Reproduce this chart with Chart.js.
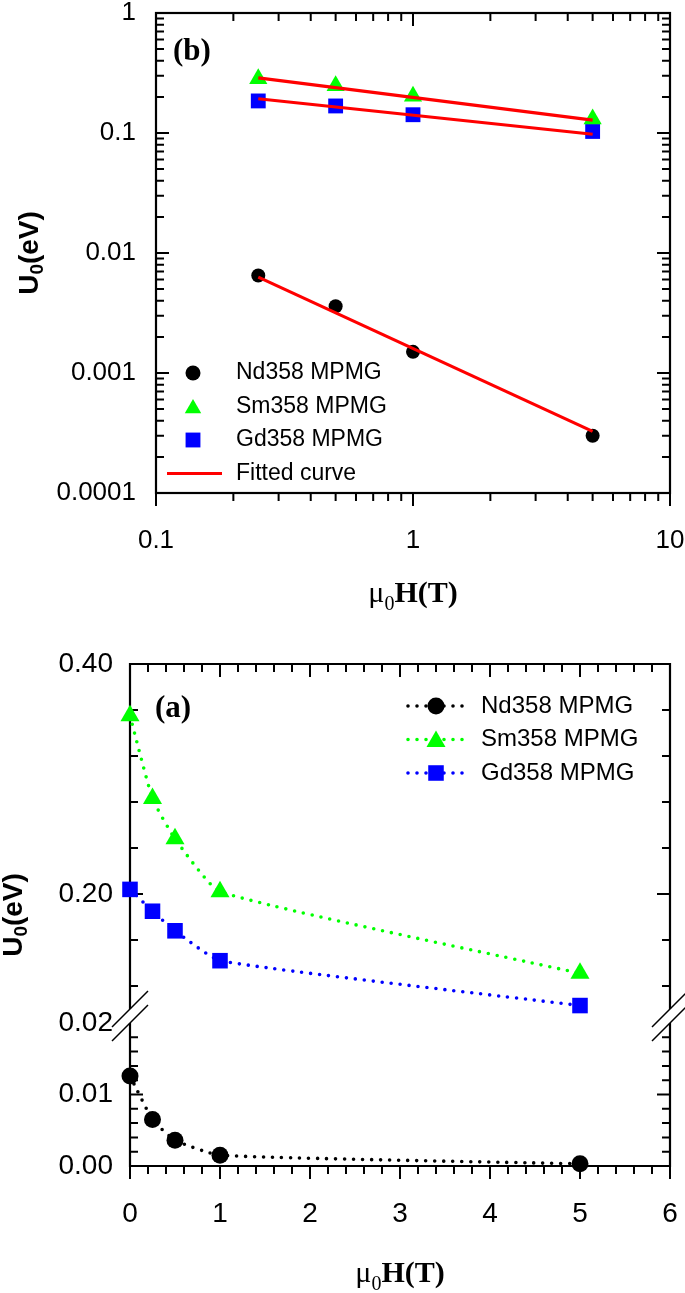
<!DOCTYPE html>
<html><head><meta charset="utf-8">
<script src="https://cdn.jsdelivr.net/npm/chart.js@4.4.1/dist/chart.umd.min.js"></script>
<style>
html,body{margin:0;padding:0;background:#fff;}
#wrap{position:relative;width:685px;height:1293px;overflow:hidden;background:#fff;}
canvas{position:absolute;left:0;}
#cb{top:0;}
#ca{top:620px;}
</style></head><body>
<div id="wrap">
<canvas id="cb" width="685" height="620"></canvas>
<canvas id="ca" width="685" height="673"></canvas>
</div>
<script>
// ---------------- data ----------------
const fieldsT = [0, 0.25, 0.5, 1, 5];
const ndU = [0.0126, 0.0065, 0.0036, 0.0015, 0.0003];
const smU = [0.355, 0.283, 0.248, 0.202, 0.131];
const gdU = [0.204, 0.185, 0.168, 0.142, 0.103];
const fitFields = [0.25, 5];
const ndFit = [0.0063, 0.000326];
const smFit = [0.288, 0.128];
const gdFit = [0.193, 0.0976];
const seriesLabels = ['Nd358 MPMG', 'Sm358 MPMG', 'Gd358 MPMG'];
const fitLabel = 'Fitted curve';
const logXTicks = [0.1, 1, 10];
const logYTicks = [0.0001, 0.001, 0.01, 0.1, 1];
const linXTicks = [0, 1, 2, 3, 4, 5, 6];
const upperYTicks = [0.20, 0.40];
const lowerYTicks = [0.00, 0.01, 0.02];

// ---------------- helpers ----------------
const SANS = '"Liberation Sans", Arial, Helvetica, sans-serif';
const SERIF = '"Liberation Serif", "Times New Roman", Times, serif';
const GREEN = '#00ff00', BLUE = '#0000ff', BLACK = '#000000', RED = '#ff0000';
const xy = (xs, ys) => xs.map((x, i) => ({x: x, y: ys[i]}));

function marker(ctx, style, x, y, r, color) {
  ctx.save();
  ctx.fillStyle = color;
  ctx.beginPath();
  if (style === 'circle') {
    ctx.arc(x, y, r, 0, Math.PI * 2);
  } else if (style === 'triangle') {
    ctx.moveTo(x, y - r);
    ctx.lineTo(x + r * Math.sin(2 * Math.PI / 3), y - r * Math.cos(2 * Math.PI / 3));
    ctx.lineTo(x + r * Math.sin(4 * Math.PI / 3), y - r * Math.cos(4 * Math.PI / 3));
  } else {
    const s = r * Math.SQRT1_2;
    ctx.rect(x - s, y - s, 2 * s, 2 * s);
  }
  ctx.closePath();
  ctx.fill();
  ctx.restore();
}

function yTitle(ctx, cx, cy) {
  ctx.save();
  ctx.translate(cx, cy);
  ctx.rotate(-Math.PI / 2);
  ctx.fillStyle = '#000';
  ctx.textBaseline = 'alphabetic';
  ctx.textAlign = 'left';
  const big = 'bold 28px ' + SANS, small = 'bold 19px ' + SANS;
  ctx.font = big; const w1 = ctx.measureText('U').width, w3 = ctx.measureText('(eV)').width;
  ctx.font = small; const w2 = ctx.measureText('0').width;
  let x = -(w1 + w2 + w3) / 2; const base = 10;
  ctx.font = big; ctx.fillText('U', x, base); x += w1;
  ctx.font = small; ctx.fillText('0', x, base + 5); x += w2;
  ctx.font = big; ctx.fillText('(eV)', x, base);
  ctx.restore();
}

function xTitle(ctx, cx, base) {
  ctx.save();
  ctx.fillStyle = '#000';
  ctx.textBaseline = 'alphabetic';
  ctx.textAlign = 'left';
  const f1 = '30px ' + SERIF, f2 = '20px ' + SERIF, f3 = 'bold 30px ' + SERIF;
  ctx.font = f1; const w1 = ctx.measureText('\u03bc').width;
  ctx.font = f2; const w2 = ctx.measureText('0').width;
  ctx.font = f3; const w3 = ctx.measureText('H(T)').width;
  let x = cx - (w1 + w2 + w3) / 2;
  ctx.font = f1; ctx.fillText('\u03bc', x, base); x += w1;
  ctx.font = f2; ctx.fillText('0', x, base + 8); x += w2;
  ctx.font = f3; ctx.fillText('H(T)', x, base);
  ctx.restore();
}

function panelLabel(ctx, text, x, base) {
  ctx.save();
  ctx.fillStyle = '#000';
  ctx.font = 'bold 31px ' + SERIF;
  ctx.textBaseline = 'alphabetic';
  ctx.textAlign = 'left';
  ctx.fillText(text, x, base);
  ctx.restore();
}

function tickLine(ctx, x1, y1, x2, y2) { ctx.moveTo(x1, y1); ctx.lineTo(x2, y2); }

const MAJ = 13, MIN = 8;

function fixY(w) {
  return s => { s.width = w; s.paddingTop = 0; s.paddingBottom = 0; };
}
function fixX(h) {
  return s => { s.height = h; s.paddingLeft = 0; s.paddingRight = 0; };
}

// ---------------- chart (b): log-log ----------------
const dotStyle = {showLine: false, pointBorderWidth: 0, order: 1, clip: false};
new Chart(document.getElementById('cb'), {
  type: 'line',
  data: {
    datasets: [
      Object.assign({label: seriesLabels[0], data: xy(fieldsT.slice(1), ndU.slice(1)),
        pointStyle: 'circle', pointRadius: 7, backgroundColor: BLACK, borderColor: BLACK}, dotStyle),
      Object.assign({label: seriesLabels[1], data: xy(fieldsT.slice(1), smU.slice(1)),
        pointStyle: 'triangle', pointRadius: 10.5, backgroundColor: GREEN, borderColor: GREEN}, dotStyle),
      Object.assign({label: seriesLabels[2], data: xy(fieldsT.slice(1), gdU.slice(1)),
        pointStyle: 'rect', pointRadius: 10.5, backgroundColor: BLUE, borderColor: BLUE}, dotStyle),
      {label: fitLabel, data: xy(fitFields, ndFit), borderColor: RED, borderWidth: 3.2, pointRadius: 0, order: 0, clip: false},
      {label: fitLabel, data: xy(fitFields, smFit), borderColor: RED, borderWidth: 3.2, pointRadius: 0, order: 0, clip: false},
      {label: fitLabel, data: xy(fitFields, gdFit), borderColor: RED, borderWidth: 3.2, pointRadius: 0, order: 0, clip: false}
    ]
  },
  options: {
    responsive: false, animation: false, devicePixelRatio: 1,
    layout: {padding: {top: 13, right: 15, left: 0, bottom: 0}},
    plugins: {legend: {display: false}, tooltip: {enabled: false}},
    scales: {
      x: {
        type: 'logarithmic', min: 0.1, max: 10,
        afterBuildTicks: s => { s.ticks = logXTicks.map(v => ({value: v})); },
        afterFit: fixX(127),
        grid: {display: false, drawTicks: false}, border: {display: false},
        ticks: {callback: v => String(v), color: '#000', font: {family: SANS, size: 26}, padding: 32, maxRotation: 0, autoSkip: false}
      },
      y: {
        type: 'logarithmic', min: 0.0001, max: 1,
        afterBuildTicks: s => { s.ticks = logYTicks.map(v => ({value: v})); },
        afterFit: fixY(156),
        grid: {display: false, drawTicks: false}, border: {display: false},
        ticks: {callback: v => String(v), color: '#000', font: {family: SANS, size: 26}, padding: 20, autoSkip: false}
      }
    }
  },
  plugins: [{
    id: 'frameB',
    beforeDatasetsDraw(chart) {
      const {ctx, chartArea: a, scales: {x, y}} = chart;
      ctx.save();
      ctx.strokeStyle = '#000';
      ctx.lineWidth = 2.2;
      ctx.strokeRect(a.left, a.top, a.right - a.left, a.bottom - a.top);
      ctx.lineWidth = 2;
      ctx.beginPath();
      for (let d = 0.1; d < 10.5; d *= 10) {
        for (let m = 1; m <= 9; m++) {
          const v = d * m;
          if (v > 10.0001) break;
          const len = m === 1 ? MAJ : MIN;
          const px = x.getPixelForValue(v);
          tickLine(ctx, px, a.top, px, a.top + len);
          tickLine(ctx, px, a.bottom, px, a.bottom + len);
        }
      }
      for (let d = 0.0001; d < 1.5; d *= 10) {
        for (let m = 1; m <= 9; m++) {
          const v = d * m;
          if (v > 1.0001) break;
          const len = m === 1 ? MAJ : MIN;
          const py = y.getPixelForValue(v);
          tickLine(ctx, a.left, py, a.left + len, py);
          tickLine(ctx, a.right, py, a.right - len, py);
        }
      }
      ctx.stroke();
      ctx.restore();
    },
    afterDraw(chart) {
      const {ctx, chartArea: a} = chart;
      const ds = chart.data.datasets;
      const mx = a.left + 37, tx = a.left + 80, row0 = a.top + 360, dy = 33.5;
      ctx.save();
      ctx.font = '23px ' + SANS;
      ctx.fillStyle = '#000';
      ctx.textBaseline = 'middle';
      const items = [ds[0], ds[1], ds[2], ds[3]];
      items.forEach((d, i) => {
        const yy = row0 + i * dy;
        if (d.pointRadius > 0) {
          const r = d.pointStyle === 'circle' ? 7.5 : d.pointStyle === 'triangle' ? 9.5 : 10.5;
          marker(ctx, d.pointStyle, mx, d.pointStyle === 'triangle' ? yy + 2 : yy, r, d.backgroundColor);
        } else {
          ctx.save();
          ctx.strokeStyle = d.borderColor; ctx.lineWidth = d.borderWidth;
          ctx.beginPath(); ctx.moveTo(a.left + 11, yy); ctx.lineTo(a.left + 66, yy); ctx.stroke();
          ctx.restore();
        }
        ctx.fillStyle = '#000';
        ctx.fillText(d.label, tx, yy);
      });
      ctx.restore();
      panelLabel(ctx, '(b)', a.left + 17, a.top + 47);
      yTitle(ctx, 28, (a.top + a.bottom) / 2);
      xTitle(ctx, (a.left + a.right) / 2, 602);
    }
  }]
});

// ---------------- chart (a): linear with axis break ----------------
const dotted = {borderDash: [0, 9], borderCapStyle: 'round', borderWidth: 3.6, tension: 0.15, pointBorderWidth: 0, clip: false};
new Chart(document.getElementById('ca'), {
  type: 'line',
  data: {
    datasets: [
      Object.assign({label: seriesLabels[0], data: xy(fieldsT, ndU), yAxisID: 'yLow',
        pointStyle: 'circle', pointRadius: 8.5, backgroundColor: BLACK, borderColor: BLACK}, dotted),
      Object.assign({label: seriesLabels[1], data: xy(fieldsT, smU), yAxisID: 'yHigh',
        pointStyle: 'triangle', pointRadius: 11, backgroundColor: GREEN, borderColor: GREEN}, dotted),
      Object.assign({label: seriesLabels[2], data: xy(fieldsT, gdU), yAxisID: 'yHigh',
        pointStyle: 'rect', pointRadius: 11, backgroundColor: BLUE, borderColor: BLUE}, dotted)
    ]
  },
  options: {
    responsive: false, animation: false, devicePixelRatio: 1,
    layout: {padding: {top: 44, right: 15, left: 0, bottom: 0}},
    plugins: {legend: {display: false}, tooltip: {enabled: false}},
    scales: {
      x: {
        type: 'linear', min: 0, max: 6,
        afterBuildTicks: s => { s.ticks = linXTicks.map(v => ({value: v})); },
        afterFit: fixX(127),
        grid: {display: false, drawTicks: false}, border: {display: false},
        ticks: {callback: v => String(v), color: '#000', font: {family: SANS, size: 28}, padding: 31, maxRotation: 0, autoSkip: false}
      },
      yLow: {
        type: 'linear', position: 'left', stack: 'u', stackWeight: 157, min: 0, max: 0.02196,
        afterBuildTicks: s => { s.ticks = lowerYTicks.map(v => ({value: v})); },
        afterFit: fixY(130),
        grid: {display: false, drawTicks: false}, border: {display: false},
        ticks: {callback: v => Number(v).toFixed(2), color: '#000', font: {family: SANS, size: 28}, padding: 17, autoSkip: false}
      },
      yHigh: {
        type: 'linear', position: 'left', stack: 'u', stackWeight: 345, min: 0.1, max: 0.4,
        afterBuildTicks: s => { s.ticks = upperYTicks.map(v => ({value: v})); },
        afterFit: fixY(130),
        grid: {display: false, drawTicks: false}, border: {display: false},
        ticks: {callback: v => Number(v).toFixed(2), color: '#000', font: {family: SANS, size: 28}, padding: 17, autoSkip: false}
      }
    }
  },
  plugins: [{
    id: 'frameA',
    beforeDatasetsDraw(chart) {
      const {ctx, chartArea: a, scales: {x, yHigh, yLow}} = chart;
      const brHi = yHigh.getPixelForValue(0.1);
      const brLo = yLow.getPixelForValue(0.02);
      ctx.save();
      ctx.strokeStyle = '#000';
      ctx.lineWidth = 2.2;
      ctx.beginPath();
      ctx.moveTo(a.left, brHi); ctx.lineTo(a.left, a.top); ctx.lineTo(a.right, a.top); ctx.lineTo(a.right, brHi);
      ctx.moveTo(a.left, brLo); ctx.lineTo(a.left, a.bottom); ctx.lineTo(a.right, a.bottom); ctx.lineTo(a.right, brLo);
      ctx.stroke();
      ctx.lineWidth = 2;
      ctx.beginPath();
      for (let k = 0; k <= 30; k++) {
        const v = k * 0.2;
        const len = k % 5 === 0 ? MAJ : MIN;
        const px = x.getPixelForValue(v);
        tickLine(ctx, px, a.top, px, a.top + len);
        tickLine(ctx, px, a.bottom, px, a.bottom + len);
      }
      for (let k = 0; k <= 7; k++) {
        const v = 0.4 - k * 0.04;
        const len = (k % 5 === 0) ? MAJ : MIN;
        const py = yHigh.getPixelForValue(v);
        tickLine(ctx, a.left, py, a.left + len, py);
        tickLine(ctx, a.right, py, a.right - len, py);
      }
      for (let k = 0; k < 10; k++) {
        const v = k * 0.002;
        const len = (k % 5 === 0) ? MAJ : MIN;
        const py = yLow.getPixelForValue(v);
        tickLine(ctx, a.left, py, a.left + len, py);
        tickLine(ctx, a.right, py, a.right - len, py);
      }
      ctx.stroke();
      ctx.lineWidth = 1.5;
      ctx.beginPath();
      for (const xa of [a.left, a.right]) {
        for (const yb of [brHi, brLo]) {
          tickLine(ctx, xa - 18, yb + 18, xa + 18, yb - 18);
        }
      }
      ctx.stroke();
      ctx.restore();
    },
    afterDraw(chart) {
      const {ctx, chartArea: a} = chart;
      const ds = chart.data.datasets;
      const mx = 436, tx = 481, row0 = a.top + 42, dy = 33.5;
      ctx.save();
      ctx.font = '24px ' + SANS;
      ctx.textBaseline = 'middle';
      ds.forEach((d, i) => {
        const yy = row0 + i * dy;
        ctx.save();
        ctx.strokeStyle = d.borderColor; ctx.lineWidth = d.borderWidth;
        ctx.lineCap = 'round'; ctx.setLineDash(d.borderDash);
        ctx.beginPath(); ctx.moveTo(mx - 28, yy); ctx.lineTo(mx + 29, yy); ctx.stroke();
        ctx.restore();
        marker(ctx, d.pointStyle, mx, d.pointStyle === 'triangle' ? yy + 2 : yy, d.pointRadius, d.backgroundColor);
        ctx.fillStyle = '#000';
        ctx.fillText(d.label, tx, yy);
      });
      ctx.restore();
      panelLabel(ctx, '(a)', a.left + 25, a.top + 53);
      yTitle(ctx, 12, (a.top + a.bottom) / 2);
      xTitle(ctx, (a.left + a.right) / 2, 662);
    }
  }]
});
</script>
</body></html>
